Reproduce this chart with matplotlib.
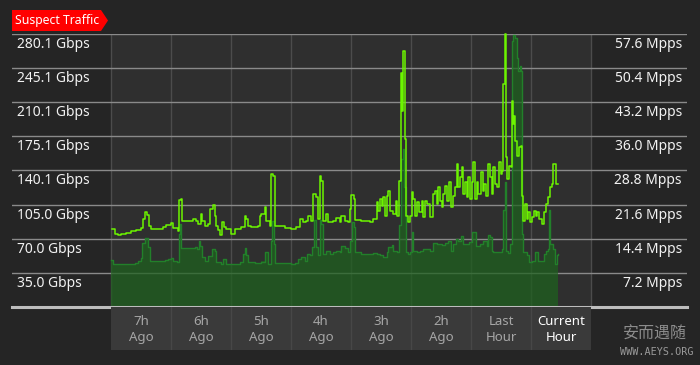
import matplotlib

matplotlib.use("Agg")
import matplotlib.pyplot as plt
from matplotlib.patches import Polygon

# minutes since the start of the "7h Ago" column, Gbps line
gbps_t = [1, 4, 7, 10, 15, 20, 25, 30, 32, 34, 36, 38, 40, 47, 52, 55, 60, 62, 67, 68,
          70, 71, 75, 82, 85, 87, 90, 91, 94, 97, 99, 102, 104, 105, 107, 109, 111, 113,
          115, 120, 124, 130, 134, 135, 137, 140, 147, 149, 150, 154, 155, 159, 160, 162,
          164, 167, 174, 180, 185, 189, 192, 195, 197, 200, 202, 205, 207, 209, 210, 212,
          215, 217, 222, 225, 229, 230, 234, 237, 239, 240, 243, 244, 250, 257, 259, 262,
          266, 267, 269, 271, 272, 274, 276, 277, 279, 282, 285, 286, 288, 290, 291, 292,
          294, 295, 297, 299, 301, 302, 304, 306, 308, 311, 312, 314, 316, 319, 322, 324,
          326, 327, 329, 331, 332, 334, 336, 338, 340, 342, 344, 346, 347, 349, 351, 352,
          354, 356, 357, 359, 361, 362, 364, 366, 367, 370, 372, 373, 375, 377, 379, 381,
          382, 384, 386, 388, 390, 391, 392, 394, 395, 396, 398, 400, 401, 402, 403, 404,
          406, 408, 410, 411, 412, 414, 416, 417, 419, 421, 423, 425, 426, 428, 431, 433,
          435, 437, 439, 441, 442, 444, 445, 447]
gbps = [80.2, 75.1, 73.4, 74.4, 76.4, 77.5, 79.2, 80.8, 90.5, 97.2, 94.9, 83.6, 80.2,
        80.2, 81.9, 84.3, 86.4, 80.8, 78.2, 109.9, 111.2, 88.7, 88.7, 90.5, 88.7, 85.4,
        95.6, 88.7, 83.6, 85.4, 100.7, 105.1, 93.8, 83.6, 78.5, 73.4, 87.0, 81.9, 80.2,
        74.4, 80.2, 81.9, 93.8, 90.5, 83.6, 81.9, 82.9, 93.8, 95.6, 102.3, 88.7, 83.6,
        136.5, 134.8, 83.6, 82.6, 81.3, 80.2, 81.9, 90.1, 87.0, 88.7, 93.8, 88.7, 116.1,
        112.6, 90.5, 134.8, 129.7, 88.7, 95.6, 87.0, 88.7, 91.5, 87.0, 93.8, 88.7, 87.0,
        100.7, 115.3, 110.9, 89.4, 88.7, 88.0, 87.0, 90.5, 107.5, 99.0, 110.9, 104.1,
        113.3, 93.8, 114.3, 119.4, 99.0, 95.6, 109.2, 93.8, 129.7, 240.5, 201.3, 262.7,
        172.3, 93.8, 87.0, 93.8, 117.7, 110.9, 93.8, 107.5, 97.2, 109.2, 92.1, 109.2,
        105.8, 92.1, 116.1, 119.4, 105.8, 122.8, 109.2, 102.3, 116.1, 124.5, 109.2, 127.9,
        102.3, 114.3, 122.8, 146.8, 122.8, 133.0, 143.3, 116.1, 127.9, 112.6, 133.0,
        110.9, 127.9, 148.4, 110.9, 127.9, 116.1, 138.2, 119.4, 126.3, 114.3, 146.8,
        133.0, 116.1, 143.3, 126.3, 122.8, 148.4, 136.5, 139.9, 228.6, 279.8, 153.5,
        131.4, 145.0, 143.3, 211.5, 187.7, 196.2, 170.6, 155.2, 163.7, 165.5, 114.3, 88.7,
        105.8, 90.5, 97.2, 87.0, 92.1, 99.0, 93.8, 97.2, 90.5, 85.4, 97.2, 105.8, 112.6,
        122.8, 126.3, 146.8, 146.8, 126.3, 126.3]

# packet rate area
mpps_t = [0, 1, 2, 10, 24, 27, 30, 31, 34, 36, 37, 39, 47, 54, 57, 60, 62, 66, 68, 69,
          70, 77, 84, 86, 88, 89, 91, 94, 97, 101, 104, 105, 110, 112, 115, 120, 129, 132,
          134, 135, 137, 144, 150, 154, 157, 160, 161, 163, 164, 174, 180, 184, 187, 190,
          194, 196, 199, 201, 203, 205, 207, 209, 210, 212, 215, 219, 222, 225, 229, 230,
          234, 237, 239, 241, 243, 244, 250, 257, 262, 266, 269, 272, 276, 277, 281, 282,
          286, 288, 290, 292, 293, 295, 297, 299, 301, 302, 306, 309, 312, 316, 319, 322,
          326, 331, 334, 337, 340, 342, 345, 347, 350, 352, 356, 358, 361, 363, 365, 369,
          372, 376, 377, 379, 381, 382, 387, 391, 392, 394, 395, 397, 399, 401, 402, 404,
          406, 407, 409, 410, 411, 412, 416, 418, 421, 424, 427, 431, 433, 435, 437, 438,
          439, 442, 444, 446, 447]
mpps = [10.0, 10.0, 9.1, 9.0, 9.3, 9.8, 10.4, 13.5, 14.6, 14.6, 12.6, 9.8, 9.8, 10.0,
        10.2, 10.4, 9.8, 9.5, 15.3, 17.6, 12.5, 12.5, 12.6, 12.3, 14.0, 12.8, 10.5, 9.8,
        10.7, 12.3, 11.8, 9.5, 9.1, 10.2, 9.1, 9.0, 9.5, 11.2, 12.5, 10.9, 9.5, 9.3, 9.6,
        11.6, 9.1, 14.0, 18.2, 13.3, 9.3, 9.3, 9.0, 9.3, 10.2, 10.5, 9.8, 11.2, 10.9, 12.6,
        18.3, 12.6, 10.9, 18.3, 17.6, 11.2, 11.9, 11.2, 11.6, 11.9, 11.6, 12.8, 12.5,
        11.6, 14.0, 17.9, 16.8, 11.6, 11.2, 11.2, 11.4, 11.2, 10.9, 10.5, 11.6, 12.6,
        13.0, 11.8, 11.6, 17.2, 31.2, 33.3, 25.3, 11.6, 11.2, 11.6, 15.8, 11.9, 11.6,
        11.9, 12.3, 12.3, 11.9, 13.5, 13.3, 13.0, 13.5, 13.9, 11.9, 13.3, 14.4, 14.0,
        14.9, 13.3, 13.3, 13.7, 15.8, 15.8, 12.8, 13.3, 14.0, 12.8, 15.1, 14.7, 11.9,
        11.6, 11.6, 12.3, 20.4, 26.3, 11.9, 11.4, 13.3, 56.1, 57.4, 56.8, 52.6, 49.8,
        50.9, 49.8, 15.5, 11.6, 10.9, 9.5, 9.8, 11.6, 9.8, 9.8, 11.2, 11.9, 12.3, 20.4,
        13.3, 12.3, 9.1, 10.9, 11.2]

gbps_ticks = [35.0, 70.0, 105.0, 140.1, 175.1, 210.1, 245.1, 280.1]
gbps_labels = ["35.0 Gbps", "70.0 Gbps", "105.0 Gbps", "140.1 Gbps",
               "175.1 Gbps", "210.1 Gbps", "245.1 Gbps", "280.1 Gbps"]
mpps_ticks = [7.2, 14.4, 21.6, 28.8, 36.0, 43.2, 50.4, 57.6]
mpps_labels = ["7.2 Mpps", "14.4 Mpps", "21.6 Mpps", "28.8 Mpps",
               "36.0 Mpps", "43.2 Mpps", "50.4 Mpps", "57.6 Mpps"]
hour_labels = ["7h\nAgo", "6h\nAgo", "5h\nAgo", "4h\nAgo", "3h\nAgo", "2h\nAgo",
               "Last\nHour", "Current\nHour"]

W, H = 700, 365
BG = "#252525"
PLOT_BG = "#2f2f2f"
BAND_BG = "#3a3a3a"
FONT = "Noto Sans"


def fx(px):
    return px / W


def fy(py):
    return 1 - py / H


fig = plt.figure(figsize=(7, 3.65), dpi=100, facecolor=BG)

# main axes spans the grid lines (12..687 px wide, 34..307 px tall)
ax = fig.add_axes([fx(12), fy(307), fx(687) - fx(12), fy(34) - fy(307)])
ax.set_facecolor("none")
ax.set_xlim(-99, 576)
ax.set_ylim(0, 57.6)
ax.axis("off")
ax.axvspan(0, 480, color=PLOT_BG, zorder=0, lw=0)
for k in range(9):
    ax.axvline(60 * k, color="#4c4c4c", lw=1, zorder=1)
for v in mpps_ticks:
    ax.axhline(v, color="#8a8a8a", lw=1, zorder=1)
ax.axhline(0, color="#bdbdbd", lw=2.2, zorder=6, clip_on=False)

ax.fill_between(mpps_t, mpps, 0, step="post", color="#1e621e", alpha=0.72,
                lw=0, zorder=2)
ax.step(mpps_t, mpps, where="post", color="#22802a", lw=1.0, zorder=3)

ax2 = ax.twinx()
ax2.set_ylim(0, 280.1)
ax2.axis("off")
ax2.step(gbps_t, gbps, where="post", color="#6cf500", lw=1.1, zorder=4,
         clip_on=False)

for v, s in zip(gbps_ticks, gbps_labels):
    ax2.annotate(s, xy=(-94, v), xytext=(0, -7.5), textcoords="offset points",
                 ha="left", va="center", color="#f2f2f2", fontsize=10, family=FONT)
for v, s in zip(mpps_ticks, mpps_labels):
    ax.annotate(s, xy=(571, v), xytext=(0, -7.5), textcoords="offset points",
                ha="right", va="center", color="#f2f2f2", fontsize=10, family=FONT)

# hour band under the chart
band = fig.add_axes([fx(111), fy(350), fx(591) - fx(111), fy(307) - fy(350)])
band.set_facecolor(BAND_BG)
band.set_xlim(0, 480)
band.set_ylim(0, 1)
band.set_xticks([])
band.set_yticks([])
for sp in band.spines.values():
    sp.set_visible(False)
for k in range(1, 8):
    band.axvline(60 * k, color="#474747", lw=1)
for i, s in enumerate(hour_labels):
    c = "#ffffff" if i == len(hour_labels) - 1 else "#a6a6a6"
    band.text(30 + 60 * i, 0.47, s, ha="center", va="center", color=c,
              fontsize=9.5, family=FONT, linespacing=1.3)

# red title tag
tag = Polygon([(fx(12), fy(10)), (fx(101), fy(10)), (fx(108), fy(20.5)),
               (fx(101), fy(31)), (fx(12), fy(31))], closed=True,
              transform=fig.transFigure, facecolor="#ff0000", edgecolor="none")
fig.patches.append(tag)
fig.text(fx(15), fy(20.5), "Suspect Traffic", color="white", fontsize=8.8,
         family=FONT, ha="left", va="center")

# watermark
fig.text(fx(655), fy(334), "安而遇随", color="#8c8c8c", fontsize=11.5,
         family=["Noto Sans CJK SC", "DejaVu Sans"], ha="center", va="center")
fig.text(fx(657), fy(352), "WWW.AEYS.ORG", color="#9a9a9a", fontsize=7.3,
         family="DejaVu Sans Mono", ha="center", va="center")

fig.savefig("out.png", dpi=100, facecolor=BG)
